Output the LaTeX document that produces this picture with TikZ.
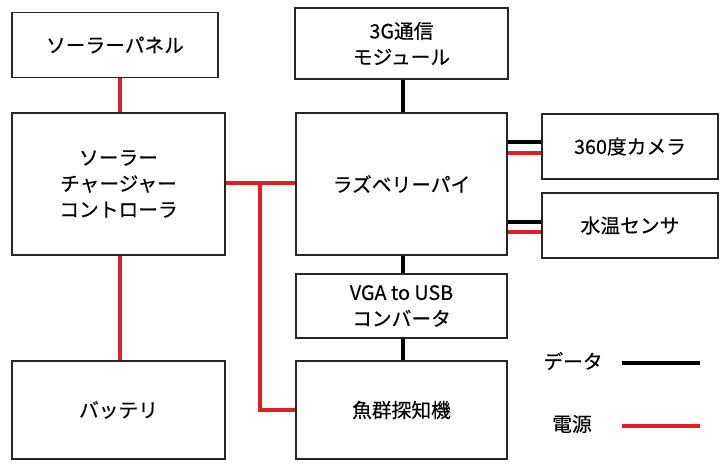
\documentclass[tikz,border=0pt]{standalone}
\usepackage{fontspec}
\setmainfont{Noto Sans CJK JP}[FakeBold=0.3]
\begin{document}
\begin{tikzpicture}[x=0.75pt,y=-0.75pt,
  blk/.style={draw=black!85,line width=1.2pt,fill=white,align=center,inner sep=0pt,font=\fontsize{14.8}{19.5}\selectfont},
  pw/.style={draw={rgb,255:red,224;green,30;blue,36},line width=3pt},
  dt/.style={draw=black,line width=3pt},
  lbl/.style={font=\fontsize{14.8}{19.5}\selectfont}]
\useasboundingbox (0,0) rectangle (726,469);
% boxes: corners in px
\node[blk,minimum width=206*0.75pt,minimum height=65*0.75pt] (panel) at (115,45) {ソーラーパネル};
\node[blk,minimum width=213*0.75pt,minimum height=142*0.75pt] (ctrl) at (118.5,184) {ソーラー\\チャージャー\\コントローラ};
\node[blk,minimum width=213*0.75pt,minimum height=98*0.75pt] (batt) at (118.5,410) {バッテリ};
\node[blk,minimum width=213*0.75pt,minimum height=71*0.75pt] (g3) at (401.5,43.5) {3G通信\\モジュール};
\node[blk,minimum width=211*0.75pt,minimum height=142*0.75pt] (rpi) at (401.5,184) {ラズベリーパイ};
\node[blk,minimum width=211*0.75pt,minimum height=64*0.75pt] (vga) at (401.5,306) {VGA to USB\\コンバータ};
\node[blk,minimum width=211*0.75pt,minimum height=98*0.75pt] (fish) at (401.5,410) {魚群探知機};
\node[blk,minimum width=176*0.75pt,minimum height=65*0.75pt] (cam) at (630,146.5) {360度カメラ};
\node[blk,minimum width=176*0.75pt,minimum height=65*0.75pt] (wat) at (630,225.5) {水温センサ};
% legend
\node[lbl] (ldata) at (573,361) {データ};
\node[lbl] (lpow) at (572,424) {電源};
\coordinate (d1) at (622,363); \coordinate (d2) at (700,363);
\coordinate (p1) at (622,426); \coordinate (p2) at (700,426);
\draw[dt] (d1) -- (d2);
\draw[pw] (p1) -- (p2);
% power connections
\draw[pw] (panel.south -| 120,0) -- (ctrl.north -| 120,0);
\draw[pw] (ctrl.south -| 120,0) -- (batt.north -| 120,0);
\draw[pw] (ctrl.east |- 0,183) -- (rpi.west |- 0,183);
\coordinate (j) at (260,183);
\draw[pw,line join=miter] (j) -- (260,410) -- (fish.west |- 0,410);
\draw[pw] (rpi.east |- 0,153) -- (cam.west |- 0,153);
\draw[pw] (rpi.east |- 0,232) -- (wat.west |- 0,232);
% data connections
\draw[dt] (g3.south -| 403,0) -- (rpi.north -| 403,0);
\draw[dt] (rpi.south -| 403,0) -- (vga.north -| 403,0);
\draw[dt] (vga.south -| 403,0) -- (fish.north -| 403,0);
\draw[dt] (rpi.east |- 0,142) -- (cam.west |- 0,142);
\draw[dt] (rpi.east |- 0,222) -- (wat.west |- 0,222);
\end{tikzpicture}
\end{document}
